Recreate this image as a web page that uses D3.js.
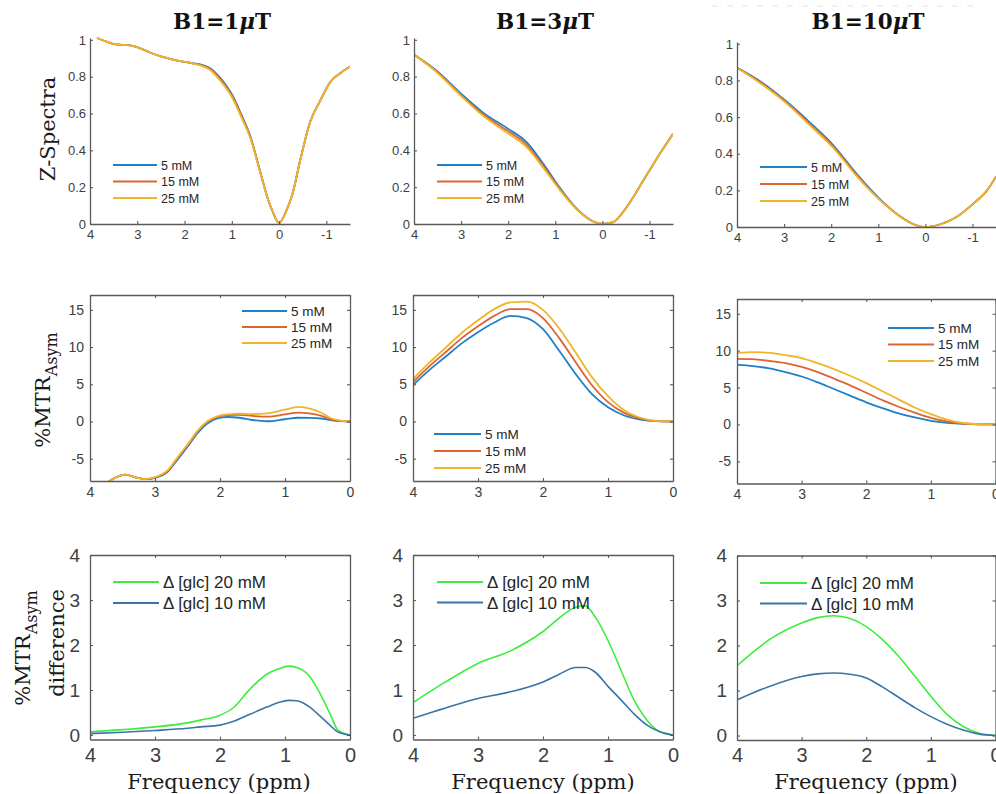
<!DOCTYPE html>
<html><head><meta charset="utf-8">
<script src="https://cdn.jsdelivr.net/npm/d3@7"></script>
<style>body{margin:0;background:#fff}svg{display:block}</style>
</head><body><svg id="fig" width="996" height="794"></svg>
<script>
// ---------------- data ----------------
const concLabels = ["5 mM", "15 mM", "25 mM"];
const diffLabels = ["\u0394 [glc] 20 mM", "\u0394 [glc] 10 mM"];
const fieldValues = ["1", "3", "10"];            // B1 saturation power, μT

// Z-spectra (normalised signal vs offset, ppm)
const zPpmB1 = [3.85, 3.65, 3.45, 3.15, 2.95, 2.72, 2.5, 2.35, 2.0, 1.8, 1.65, 1.45, 1.25, 1.1, 1.0, 0.8, 0.6, 0.4, 0.23, 0.14, 0, -0.15, -0.28, -0.45, -0.65, -0.87, -1.08, -1.3, -1.5];
const zB1_5  = [1.01, 0.99, 0.975, 0.97, 0.955, 0.93, 0.91, 0.90, 0.88, 0.872, 0.865, 0.845, 0.795, 0.745, 0.705, 0.595, 0.47, 0.285, 0.13, 0.07, 0.005, 0.07, 0.16, 0.35, 0.55, 0.67, 0.77, 0.82, 0.855];
const zB1_15 = [1.01, 0.99, 0.975, 0.97, 0.955, 0.93, 0.91, 0.90, 0.88, 0.871, 0.862, 0.84, 0.788, 0.738, 0.698, 0.588, 0.465, 0.283, 0.13, 0.07, 0.005, 0.07, 0.16, 0.35, 0.55, 0.67, 0.77, 0.82, 0.855];
const zB1_25 = [1.01, 0.99, 0.975, 0.97, 0.955, 0.93, 0.91, 0.90, 0.88, 0.87, 0.86, 0.835, 0.78, 0.73, 0.69, 0.58, 0.46, 0.28, 0.13, 0.07, 0.005, 0.07, 0.16, 0.35, 0.55, 0.67, 0.77, 0.82, 0.855];

const zPpmB3 = [4, 3.52, 3.02, 2.52, 2.02, 1.6, 1.24, 0.89, 0.53, 0.18, 0, -0.24, -0.52, -0.88, -1.23, -1.5];
const zB3_5  = [0.92, 0.832, 0.712, 0.602, 0.52, 0.442, 0.322, 0.192, 0.079, 0.012, 0, 0.012, 0.094, 0.24, 0.385, 0.49];
const zB3_15 = [0.92, 0.828, 0.705, 0.593, 0.507, 0.428, 0.31, 0.186, 0.077, 0.012, 0, 0.012, 0.094, 0.24, 0.385, 0.49];
const zB3_25 = [0.92, 0.825, 0.70, 0.585, 0.495, 0.415, 0.30, 0.18, 0.075, 0.012, 0, 0.012, 0.094, 0.24, 0.385, 0.49];

const zPpmB10 = [4, 3.45, 2.95, 2.45, 1.95, 1.45, 0.96, 0.53, 0.25, 0, -0.32, -0.67, -1.03, -1.31, -1.5];
const zB10_5  = [0.87, 0.785, 0.685, 0.57, 0.445, 0.287, 0.151, 0.057, 0.015, 0, 0.015, 0.056, 0.13, 0.2, 0.275];
const zB10_15 = [0.87, 0.78, 0.68, 0.562, 0.437, 0.281, 0.148, 0.056, 0.015, 0, 0.015, 0.056, 0.13, 0.2, 0.275];
const zB10_25 = [0.87, 0.775, 0.675, 0.555, 0.43, 0.275, 0.145, 0.055, 0.015, 0, 0.015, 0.056, 0.13, 0.2, 0.275];

// MTR asymmetry (%)
const aPpmB1 = [3.75, 3.6, 3.46, 3.3, 3.15, 2.97, 2.81, 2.66, 2.5, 2.35, 2.2, 2.04, 1.89, 1.7, 1.5, 1.27, 1.0, 0.8, 0.6, 0.45, 0.28, 0.12, 0];
const aB1_5  = [-8.3, -7.5, -7.15, -7.5, -7.75, -7.5, -6.8, -5.2, -3.4, -1.6, -0.3, 0.4, 0.6, 0.5, 0.2, 0.03, 0.3, 0.5, 0.48, 0.4, 0.15, 0.04, 0];
const aB1_15 = [-8.3, -7.5, -7.15, -7.5, -7.75, -7.45, -6.7, -5.0, -3.2, -1.4, -0.1, 0.6, 0.85, 0.9, 0.75, 0.65, 0.95, 1.2, 1.05, 0.8, 0.25, 0.06, 0];
const aB1_25 = [-8.3, -7.5, -7.15, -7.5, -7.75, -7.4, -6.6, -4.9, -3.1, -1.3, 0.0, 0.7, 0.95, 1.05, 1.0, 1.1, 1.6, 1.95, 1.7, 1.2, 0.4, 0.08, 0];

const aPpm = [4, 3.75, 3.5, 3.25, 3.0, 2.75, 2.5, 2.25, 2.0, 1.75, 1.5, 1.25, 1.0, 0.75, 0.5, 0.25, 0];
const aB3_5  = [4.9, 6.9, 8.7, 10.5, 12.0, 13.3, 14.2, 13.9, 12.4, 9.5, 6.4, 3.7, 1.9, 0.8, 0.25, 0.04, 0];
const aB3_15 = [5.3, 7.4, 9.3, 11.2, 12.8, 14.2, 15.1, 15.1, 13.9, 11.2, 8.0, 4.9, 2.6, 1.15, 0.4, 0.06, 0];
const aB3_25 = [5.7, 7.9, 9.9, 11.9, 13.6, 15.1, 16.0, 16.1, 15.0, 12.5, 9.3, 6.0, 3.4, 1.5, 0.5, 0.08, 0];
const aB10_5  = [8.1, 7.9, 7.6, 7.1, 6.5, 5.7, 4.8, 3.9, 3.0, 2.2, 1.5, 0.95, 0.5, 0.22, 0.07, 0.01, 0];
const aB10_15 = [8.9, 8.85, 8.6, 8.3, 7.8, 7.1, 6.2, 5.3, 4.3, 3.3, 2.4, 1.6, 0.9, 0.4, 0.13, 0.02, 0];
const aB10_25 = [9.7, 9.8, 9.7, 9.4, 9.0, 8.3, 7.5, 6.6, 5.6, 4.5, 3.4, 2.3, 1.4, 0.65, 0.2, 0.03, 0];

// MTR asymmetry difference (%)
const dPpmB1 = [4, 3.5, 3, 2.5, 2.3, 2.0, 1.8, 1.54, 1.28, 1.1, 0.95, 0.82, 0.62, 0.46, 0.31, 0.18, 0];
const dB1_20 = [0.07, 0.12, 0.18, 0.27, 0.33, 0.44, 0.6, 1.02, 1.35, 1.47, 1.53, 1.5, 1.3, 0.92, 0.48, 0.1, 0];
const dB1_10 = [0.03, 0.06, 0.1, 0.15, 0.18, 0.22, 0.3, 0.46, 0.62, 0.72, 0.77, 0.76, 0.62, 0.42, 0.22, 0.06, 0];

const dPpmB3 = [4, 3.5, 3.0, 2.5, 2.0, 1.75, 1.5, 1.35, 1.2, 1.0, 0.8, 0.6, 0.4, 0.2, 0];
const dB3_20 = [0.72, 1.18, 1.59, 1.87, 2.3, 2.6, 2.84, 2.87, 2.63, 2.1, 1.44, 0.78, 0.33, 0.07, 0];
const dB3_10 = [0.37, 0.6, 0.81, 0.96, 1.18, 1.35, 1.5, 1.5, 1.4, 1.08, 0.78, 0.47, 0.22, 0.07, 0];

const dPpmB10 = [4, 3.5, 3, 2.75, 2.5, 2.25, 2, 1.75, 1.5, 1.25, 1.0, 0.75, 0.5, 0.25, 0];
const dB10_20 = [1.55, 2.13, 2.5, 2.62, 2.66, 2.6, 2.42, 2.13, 1.76, 1.32, 0.87, 0.47, 0.2, 0.05, 0];
const dB10_10 = [0.79, 1.09, 1.31, 1.37, 1.39, 1.36, 1.28, 1.08, 0.85, 0.62, 0.42, 0.25, 0.12, 0.03, 0];

// axis ticks
const zTicksX = [4, 3, 2, 1, 0, -1];
const zTicksY = [0, 0.2, 0.4, 0.6, 0.8, 1];
const aTicksX = [4, 3, 2, 1, 0];
const aTicksY = [-5, 0, 5, 10, 15];
const dTicksY = [0, 1, 2, 3, 4];

// ---------------- styling ----------------
const concColors = ["#1f80c8", "#de6434", "#efb62a"];
const diffColors = ["#3ded3d", "#3a74a6"];
const SANS = "Arial, 'Liberation Sans', Helvetica, sans-serif";
const SERIF = "Georgia, 'DejaVu Serif', serif";
const AXIS = "#5a5a5a";

// ---------------- panels ----------------
const panels = [
  // row 1: Z-spectra
  { box:[90,38,350,224], x:[4,-1.5], y:[0,1.01], xt:zTicksX, yt:zTicksY, full:false, fs:13, ls:12.5,
    ppm:zPpmB1, ser:[zB1_5,zB1_15,zB1_25], col:concColors, lab:concLabels, lw:1.8,
    leg:{x:113, y:165, dy:16.5, len:44} },
  { box:[414,38,673,224], x:[4,-1.5], y:[0,1.01], xt:zTicksX, yt:zTicksY, full:false, fs:13, ls:12.5,
    ppm:zPpmB3, ser:[zB3_5,zB3_15,zB3_25], col:concColors, lab:concLabels, lw:1.8,
    leg:{x:437, y:165, dy:16.5, len:45} },
  { box:[737,42,996,227], x:[4,-1.5], y:[0,1.01], xt:zTicksX, yt:zTicksY, full:false, fs:13, ls:12.5,
    ppm:zPpmB10, ser:[zB10_5,zB10_15,zB10_25], col:concColors, lab:concLabels, lw:1.8,
    leg:{x:760, y:167, dy:17, len:47} },
  // row 2: MTR asymmetry
  { box:[90,295,350,481], x:[4,0], y:[-8,17], xt:aTicksX, yt:aTicksY, full:true, fs:14, ls:13.5,
    ppm:aPpmB1, ser:[aB1_5,aB1_15,aB1_25], col:concColors, lab:concLabels, lw:1.8,
    leg:{x:242, y:311, dy:16, len:45} },
  { box:[413,295,673,481], x:[4,0], y:[-8,17], xt:aTicksX, yt:aTicksY, full:true, fs:14, ls:13.5,
    ppm:aPpm, ser:[aB3_5,aB3_15,aB3_25], col:concColors, lab:concLabels, lw:1.8,
    leg:{x:434, y:434, dy:17, len:47} },
  { box:[737,299,995.5,483.5], x:[4,0], y:[-8,17], xt:aTicksX, yt:aTicksY, full:true, fs:14, ls:13.5,
    ppm:aPpm, ser:[aB10_5,aB10_15,aB10_25], col:concColors, lab:concLabels, lw:1.8,
    leg:{x:888, y:328, dy:16.5, len:46} },
  // row 3: MTR asymmetry difference
  { box:[90,555,350,739.5], x:[4,0], y:[-0.1,4], xt:aTicksX, yt:dTicksY, full:true, fs:19, ls:17, xfs:20,
    ppm:dPpmB1, ser:[dB1_20,dB1_10], col:diffColors, lab:diffLabels, lw:1.6,
    leg:{x:113, y:582, dy:21, len:46} },
  { box:[413,555,673,739.5], x:[4,0], y:[-0.1,4], xt:aTicksX, yt:dTicksY, full:true, fs:19, ls:17, xfs:20,
    ppm:dPpmB3, ser:[dB3_20,dB3_10], col:diffColors, lab:diffLabels, lw:1.6,
    leg:{x:437, y:582, dy:20.5, len:46} },
  { box:[737,555.5,995.5,740], x:[4,0], y:[-0.1,4], xt:aTicksX, yt:dTicksY, full:true, fs:19, ls:17, xfs:20,
    ppm:dPpmB10, ser:[dB10_20,dB10_10], col:diffColors, lab:diffLabels, lw:1.6,
    leg:{x:760, y:583, dy:20.5, len:47} }
];

const svg = d3.select("#fig");
svg.append("rect").attr("width", 996).attr("height", 794).attr("fill", "#fff");

const fmt = v => String(v);

panels.forEach((p, i) => {
  const [x0, y0, x1, y1] = p.box;
  const x = d3.scaleLinear().domain(p.x).range([x0, x1]);
  const y = d3.scaleLinear().domain(p.y).range([y1, y0]);
  const g = svg.append("g");

  const clipId = "clip" + i;
  svg.append("clipPath").attr("id", clipId)
    .append("rect").attr("x", x0).attr("y", y0 - 2).attr("width", x1 - x0).attr("height", y1 - y0 + 2);

  // curves, drawn so the highest concentration ends on top
  const line = d3.line()
    .x((d, k) => x(p.ppm[k]))
    .y(d => y(d))
    .curve(d3.curveMonotoneX);
  const curves = g.append("g").attr("clip-path", `url(#${clipId})`);
  p.ser.forEach((s, k) => {
    curves.append("path").attr("d", line(s))
      .attr("fill", "none").attr("stroke", p.col[k])
      .attr("stroke-width", p.lw).attr("stroke-linejoin", "round");
  });

  // axes with inward ticks
  const tick = 3;
  const xfs = p.xfs || p.fs;
  const ax = g.append("g").attr("transform", `translate(0,${y1})`)
    .call(d3.axisBottom(x).tickValues(p.xt).tickFormat(fmt).tickSizeInner(-tick).tickSizeOuter(0)
      .tickPadding(xfs > 16 ? 8 : 6));
  const ay = g.append("g").attr("transform", `translate(${x0},0)`)
    .call(d3.axisLeft(y).tickValues(p.yt).tickFormat(fmt).tickSizeInner(-tick).tickSizeOuter(0)
      .tickPadding(p.fs > 16 ? 10 : (p.full ? 6 : 4)));
  ax.selectAll("text").attr("font-size", xfs);
  ay.selectAll("text").attr("font-size", p.fs);
  [ax, ay].forEach(a => {
    a.attr("font-family", SANS);
    a.select(".domain").attr("stroke", AXIS).attr("stroke-width", 1.3);
    a.selectAll(".tick line").attr("stroke", AXIS).attr("stroke-width", 1.1);
    a.selectAll("text").attr("fill", "#404040");
  });
  if (p.full) {
    const at = g.append("g").attr("transform", `translate(0,${y0})`)
      .call(d3.axisTop(x).tickValues(p.xt).tickFormat("").tickSizeInner(-tick).tickSizeOuter(0));
    const ar = g.append("g").attr("transform", `translate(${x1},0)`)
      .call(d3.axisRight(y).tickValues(p.yt).tickFormat("").tickSizeInner(-tick).tickSizeOuter(0));
    [at, ar].forEach(a => {
      a.select(".domain").attr("stroke", AXIS).attr("stroke-width", 1.3);
      a.selectAll(".tick line").attr("stroke", AXIS).attr("stroke-width", 1.1);
    });
  }

  // legend
  const lg = g.append("g");
  p.lab.forEach((t, k) => {
    const yy = p.leg.y + k * p.leg.dy;
    lg.append("line").attr("x1", p.leg.x).attr("x2", p.leg.x + p.leg.len)
      .attr("y1", yy).attr("y2", yy).attr("stroke", p.col[k]).attr("stroke-width", p.lw + 0.4);
    lg.append("text").attr("x", p.leg.x + p.leg.len + 4).attr("y", yy)
      .attr("dy", "0.36em").attr("font-family", SANS).attr("font-size", p.ls)
      .attr("fill", "#262626").text(t);
  });
});

// column titles
const titleX = [222, 545, 868];
fieldValues.forEach((v, i) => {
  const t = svg.append("text").attr("x", titleX[i]).attr("y", 29)
    .attr("text-anchor", "middle").attr("font-family", SERIF)
    .attr("font-weight", "bold").attr("font-size", 21.5).attr("fill", "#111");
  t.append("tspan").text("B1=" + v);
  t.append("tspan").attr("font-style", "italic").text("\u03bc");
  t.append("tspan").text("T");
});

// faint rule above the right column
svg.append("line").attr("x1", 712).attr("x2", 975).attr("y1", 6).attr("y2", 6)
  .attr("stroke", "#e4e4e4").attr("stroke-width", 1.2).attr("stroke-dasharray", "6 9");

// y-axis labels
function vlabel(cx, cy, build) {
  const t = svg.append("text").attr("transform", `translate(${cx},${cy}) rotate(-90)`)
    .attr("text-anchor", "middle").attr("font-family", SERIF).attr("fill", "#1a1a1a").attr("font-size", 21);
  build(t);
  return t;
}
vlabel(55, 129, t => t.text("Z-Spectra"));
vlabel(50, 390, t => {
  t.append("tspan").text("%MTR");
  t.append("tspan").attr("font-size", 16).attr("dy", 7).text("Asym");
});
vlabel(30, 648, t => {
  t.append("tspan").text("%MTR");
  t.append("tspan").attr("font-size", 16).attr("dy", 7).text("Asym");
});
vlabel(64, 643, t => t.text("difference"));

// x-axis labels
[219, 543, 866].forEach(cx => {
  svg.append("text").attr("x", cx).attr("y", 789).attr("text-anchor", "middle")
    .attr("font-family", SERIF).attr("font-size", 21).attr("fill", "#1a1a1a")
    .text("Frequency (ppm)");
});
</script></body></html>
